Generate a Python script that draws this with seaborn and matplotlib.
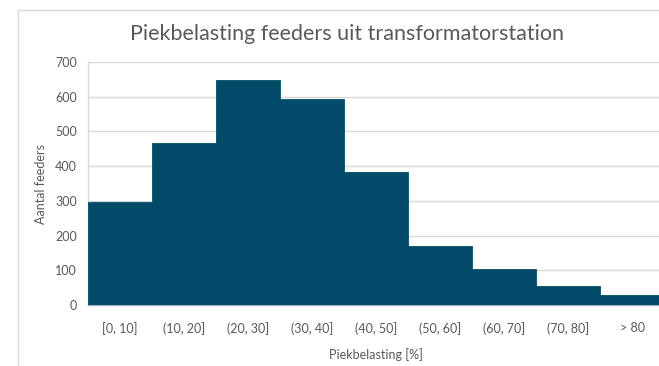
import matplotlib
matplotlib.use("Agg")
import matplotlib.pyplot as plt
import seaborn as sns
import pandas as pd
from matplotlib.patches import Rectangle

# Histogram of feeder peak loads per load class
klassen = ["[0, 10]", "(10, 20]", "(20, 30]", "(30, 40]", "(40, 50]",
           "(50, 60]", "(60, 70]", "(70, 80]", "> 80"]
aantal = [298, 466, 647, 593, 383, 170, 104, 55, 30]
y_ticks = [0, 100, 200, 300, 400, 500, 600, 700]

df = pd.DataFrame({"klasse": klassen, "aantal": aantal})

sns.set_theme(style="white")
plt.rcParams["font.family"] = ["Lato", "DejaVu Sans"]

BAR = "#024C69"
GRID = "#D9D9D9"
TXT = "#595959"

W, H = 659, 366
fig = plt.figure(figsize=(W / 100, H / 100), dpi=100)
fig.patch.set_facecolor("white")

# chart area border (runs off the right and bottom edges)
fig.patches.append(Rectangle((18 / W, -0.05), 1.2, 1 - 10 / H + 0.05,
                             transform=fig.transFigure, fill=False,
                             edgecolor=GRID, linewidth=1.0, zorder=0))

left, right, top, bottom = 88, 664, 62, 305
ax = fig.add_axes([left / W, 1 - bottom / H, (right - left) / W, (bottom - top) / H])

sns.barplot(data=df, x="klasse", y="aantal", color=BAR, width=1.0,
            saturation=1, edgecolor=BAR, linewidth=0.6, ax=ax, zorder=3)

ax.set_xlim(-0.5, len(klassen) - 0.5)
ax.set_ylim(0, 700)
ax.set_yticks(y_ticks)
ax.set_yticklabels([str(v) for v in y_ticks])
ax.yaxis.grid(True, color=GRID, linewidth=1.0, zorder=0)
ax.set_axisbelow(True)

for s in ["top", "right"]:
    ax.spines[s].set_visible(False)
ax.spines["left"].set_color(GRID)
ax.spines["left"].set_linewidth(1.0)
ax.spines["bottom"].set_color("#9FB3BE")
ax.spines["bottom"].set_linewidth(1.0)

ax.tick_params(axis="both", length=0, labelsize=9, colors=TXT)
ax.tick_params(axis="y", pad=8)
ax.tick_params(axis="x", pad=12)

ax.set_xlabel("Piekbelasting [%]", fontsize=9, color=TXT, labelpad=10)
ax.set_ylabel("Aantal feeders", fontsize=9, color=TXT, labelpad=6)

fig.text(347 / W, 1 - 34 / H, "Piekbelasting feeders uit transformatorstation",
         ha="center", va="center", fontsize=15.5, color=TXT)

fig.savefig("out.png", dpi=100, facecolor="white")
